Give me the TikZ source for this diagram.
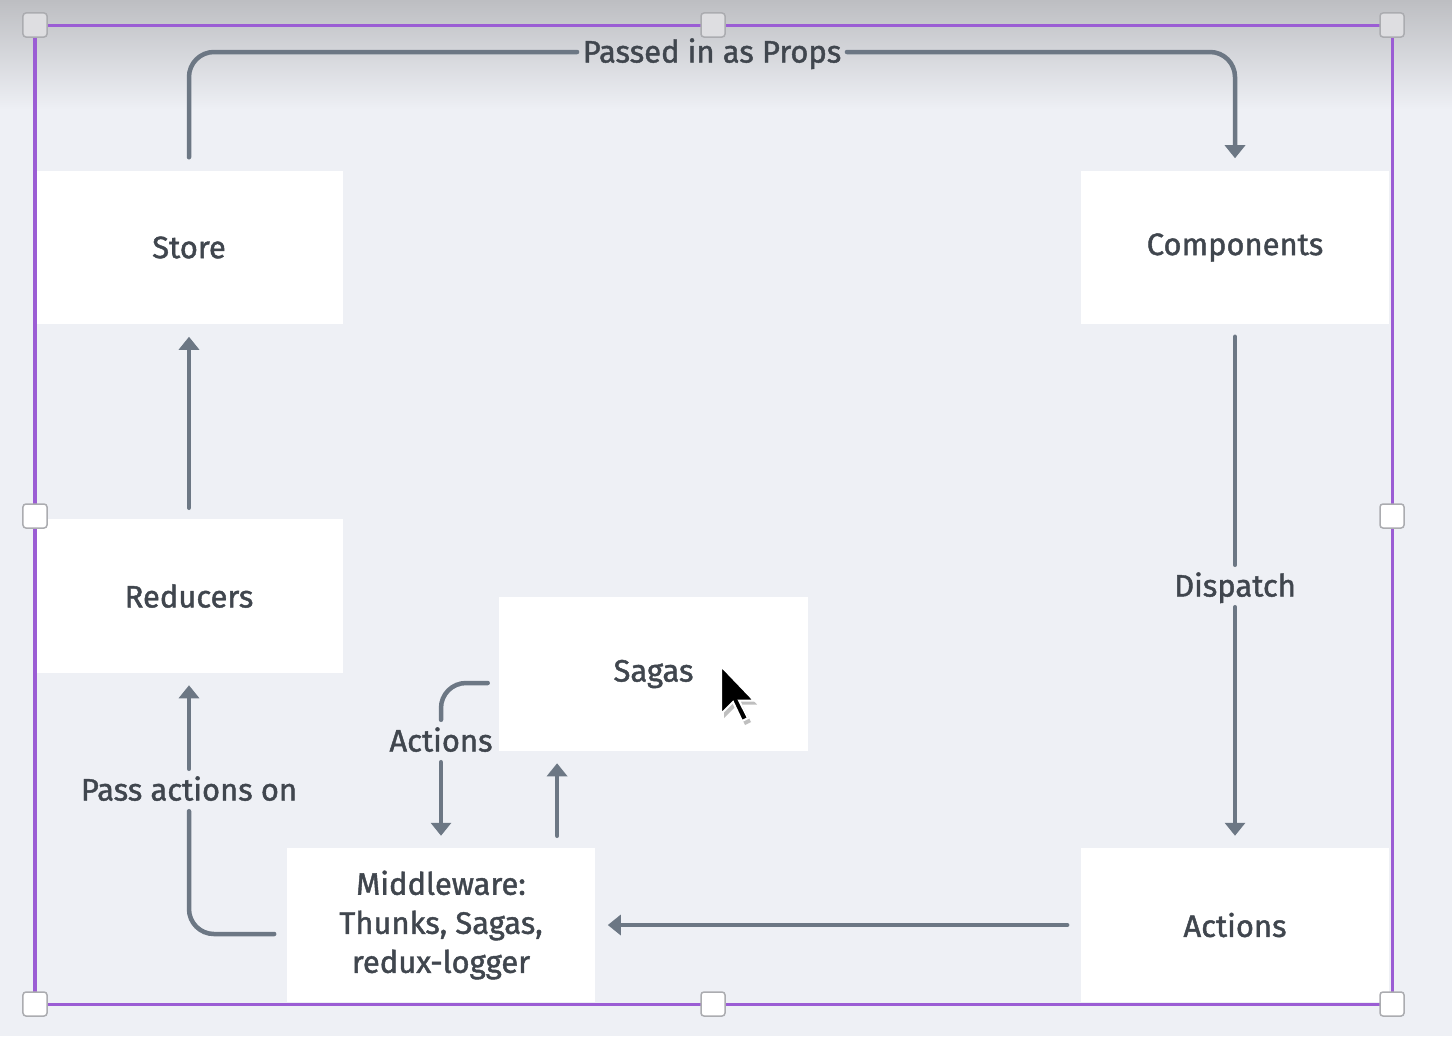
\documentclass[tikz,border=0pt]{standalone}
\usepackage{fontspec}
\newfontfamily\diagfont{Fira Sans}[FakeBold=1.4]
\usetikzlibrary{arrows.meta}

\definecolor{sfondo}{HTML}{EEF0F5}
\definecolor{ombra}{HTML}{BDBEC2}
\definecolor{linea}{HTML}{6C7784}
\definecolor{testo}{HTML}{40464E}
\definecolor{viola}{HTML}{9B5DD4}
\definecolor{bordino}{HTML}{ABACB0}
\definecolor{grigino}{HTML}{DEDEE1}

\tikzset{
	riquadro/.style={fill=white, minimum width=3.08cm, minimum height=1.53cm, align=center,
		text=testo, font=\diagfont\fontsize{8.8}{11.1}\selectfont},
	etichetta/.style={text=testo, font=\diagfont\fontsize{8.8}{11.1}\selectfont,
		text height=0.21cm, text depth=0cm, inner xsep=0.05cm, inner ysep=0.1cm},
	collega/.style={draw=linea, line width=0.045cm, rounded corners=0.25cm, line cap=round},
	freccia/.style={collega, shorten >=0.12cm, -{Triangle[length=0.13cm,width=0.2cm]}},
	maniglia/.style={draw=bordino, line width=0.015cm, minimum size=0.24cm, inner sep=0pt, rounded corners=0.03cm}
}

\begin{document}
\begin{tikzpicture}[x=0.01cm,y=-0.01cm]
	\useasboundingbox (0,0) rectangle (1452,1036);
	% Sfondo
	\fill[sfondo] (0,0) rectangle (1452,1036);
	\shade[top color=ombra, bottom color=sfondo] (0,0) rectangle (1452,110);

	% Riquadri
	\node[riquadro] (store) at (189,247.5) {Store};
	\node[riquadro] (comp) at (1235,247.5) {Components};
	\node[riquadro] (reducers) at (189,596) {Reducers};
	\node[riquadro] (sagas) at (653.5,674) {Sagas};
	\node[riquadro] (middle) at (441,925) {Middleware:\\Thunks, Sagas,\\redux-logger};
	\node[riquadro] (actions) at (1235,925) {Actions};

	% Etichette sulle frecce
	\node[etichetta] (props) at (712,52) {Passed in as Props};
	\node[etichetta] (dispatch) at (1235,586) {Dispatch};
	\node[etichetta] (passon) at (189,790) {Pass actions on};
	\node[etichetta] (sagaact) at (441,741) {Actions};

	% Collegamenti
	\draw[collega, shorten <=0.13cm] (store.north) |- (props.west);
	\draw[freccia] (props.east) -| (comp.north);
	\draw[freccia, shorten <=0.11cm] (reducers.north) -- (store.south);
	\draw[collega, shorten <=0.12cm] ([yshift=-0.09cm]middle.west) -| (passon.south);
	\draw[freccia] (passon.north) -- (reducers.south);
	\draw[collega, shorten <=0.12cm] (comp.south) -- (dispatch.north);
	\draw[freccia] (dispatch.south) -- (actions.north);
	\draw[freccia, shorten <=0.13cm] (actions.west) -- (middle.east);
	\draw[collega, shorten <=0.11cm] ([yshift=-0.09cm]sagas.west) -| (sagaact.north);
	\draw[freccia] (sagaact.south) -- (middle.north);
	\draw[freccia, shorten <=0.12cm] ([xshift=1.16cm]middle.north) -- ([xshift=1.16cm]middle.north |- sagas.south);

	% Cornice di selezione
	\draw[viola, line width=0.03cm] (35,25) rectangle (1392,1004);
	\foreach \x/\y [count=\i] in {35/25,713/25,1392/25}
		\node[maniglia, fill=grigino] (ms\i) at (\x,\y) {};
	\foreach \x/\y [count=\i] in {35/516,1392/516,35/1004,713/1004,1392/1004}
		\node[maniglia, fill=white] (mb\i) at (\x,\y) {};

	% Puntatore
	\fill[black!25, shift={(724,670)}] (0,0) -- (0,48) -- (12,36) -- (21,55) -- (27,52) -- (18,34.5) -- (33,34.5) -- cycle;
	\draw[fill=black, draw=white, line width=0.02cm, shift={(721,666)}] (0,0) -- (0,48) -- (12,36) -- (21,55) -- (27,52) -- (18,34.5) -- (33,34.5) -- cycle;
\end{tikzpicture}
\end{document}
